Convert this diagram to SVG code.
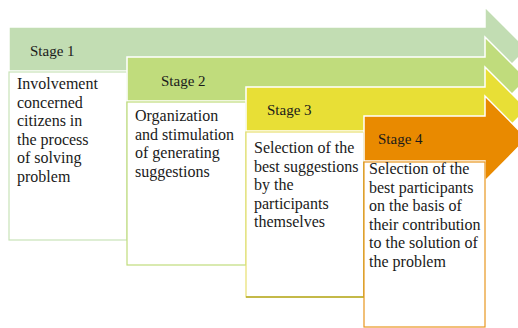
<svg xmlns="http://www.w3.org/2000/svg" width="518" height="328" viewBox="0 0 518 328">
<style>
.arrow{stroke:#ffffff;stroke-width:1.5;stroke-linejoin:miter}
.box{fill:#ffffff;stroke-width:1.2}
.stage{font-size:15px;fill:#1a1a1a}
.body{font-size:16px;fill:#1a1a1a}
</style>
<rect width="518" height="328" fill="#ffffff"/>
<g id="connectors"></g>
<g font-family="Liberation Serif, Times New Roman, serif">
<g id="stage1">
<path class="arrow" fill="#C2DDB3" d="M9,27 H485 V7 L527,49 L485,91 V71 H9 Z"/>
<rect class="box" x="9" y="72" width="118" height="168" stroke="#C9E3B8"/>
<text class="stage" x="30" y="56">Stage 1</text>
<text class="body" x="17" y="89">Involvement<tspan x="17" dy="18.5">concerned</tspan><tspan x="17" dy="18.5">citizens in</tspan><tspan x="17" dy="18.5">the process</tspan><tspan x="17" dy="18.5">of solving</tspan><tspan x="17" dy="18.5">problem</tspan></text>
</g>
<g id="stage2">
<path class="arrow" fill="#C0DC7C" d="M127,57 H485 V37 L527,79 L485,121 V101 H127 Z"/>
<rect class="box" x="127" y="102" width="119" height="163" stroke="#C0DC7C"/>
<text class="stage" x="161" y="86">Stage 2</text>
<text class="body" x="135" y="121">Organization<tspan x="135" dy="18.5">and stimulation</tspan><tspan x="135" dy="18.5">of generating</tspan><tspan x="135" dy="18.5">suggestions</tspan></text>
</g>
<g id="stage3">
<path class="arrow" fill="#E8DF36" d="M246,87 H485 V67 L527,109 L485,151 V131 H246 Z"/>
<rect class="box" x="246" y="132" width="118" height="165" stroke="#E8E070"/>
<path d="M246,297 H364 V132" fill="none" stroke="#B5A828" stroke-width="1.5"/>
<text class="stage" x="267" y="115">Stage 3</text>
<text class="body" x="254" y="153">Selection of the<tspan x="254" dy="18.5">best suggestions</tspan><tspan x="254" dy="18.5">by the</tspan><tspan x="254" dy="18.5">participants</tspan><tspan x="254" dy="18.5">themselves</tspan></text>
</g>
<g id="stage4">
<path class="arrow" fill="#E98A00" d="M364,116 H485 V96 L527,138.5 L485,181 V161 H364 Z"/>
<rect class="box" x="364" y="162" width="121" height="165" stroke="#E8961E"/>
<text class="stage" x="378" y="144">Stage 4</text>
<text class="body" x="369" y="174">Selection of the<tspan x="369" dy="18.5">best participants</tspan><tspan x="369" dy="18.5">on the basis of</tspan><tspan x="369" dy="18.5">their contribution</tspan><tspan x="369" dy="18.5">to the solution of</tspan><tspan x="369" dy="18.5">the problem</tspan></text>
</g>
</g>
</svg>
